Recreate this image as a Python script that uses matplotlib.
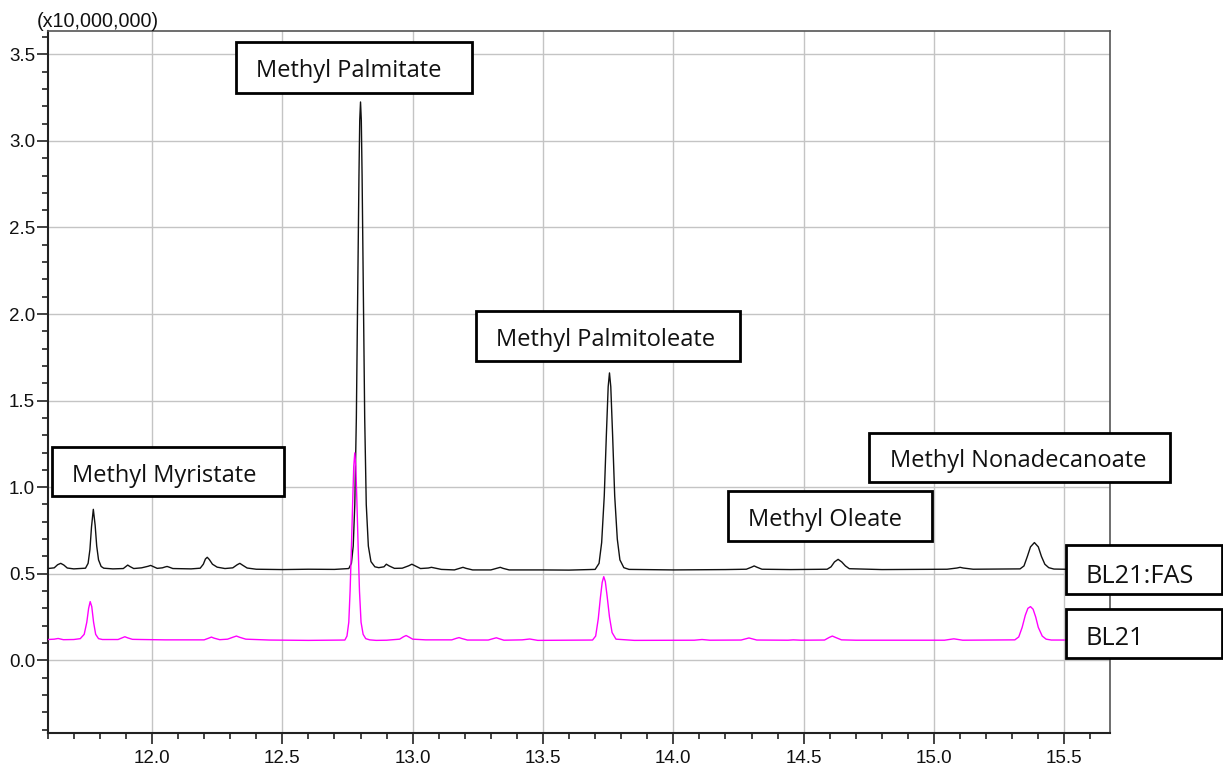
import matplotlib
matplotlib.use("Agg")
import matplotlib.pyplot as plt
from matplotlib.patches import Rectangle
from matplotlib.ticker import MultipleLocator, FormatStrFormatter

# ---------------- data ----------------
# BL21:FAS trace (black): retention time (min), intensity (x10,000,000)
fas_time = [11.60, 11.625, 11.638, 11.65, 11.662, 11.675, 11.70, 11.745, 11.755, 11.762,
            11.768, 11.775, 11.782, 11.788, 11.795, 11.805, 11.815, 11.85, 11.89, 11.900,
            11.907, 11.915, 11.93, 11.96, 11.985, 11.995, 12.005, 12.02, 12.04, 12.05,
            12.058, 12.066, 12.08, 12.15, 12.185, 12.197, 12.205, 12.212, 12.22, 12.232,
            12.25, 12.28, 12.31, 12.327, 12.337, 12.347, 12.365, 12.40, 12.50, 12.60,
            12.70, 12.755, 12.765, 12.772, 12.778, 12.784, 12.789, 12.794, 12.797, 12.800,
            12.803, 12.806, 12.811, 12.816, 12.822, 12.830, 12.840, 12.855, 12.87, 12.89,
            12.899, 12.91, 12.93, 12.96, 12.985, 12.997, 13.01, 13.03, 13.06, 13.072,
            13.085, 13.11, 13.16, 13.183, 13.193, 13.205, 13.23, 13.30, 13.325, 13.336,
            13.347, 13.37, 13.50, 13.60, 13.70, 13.715, 13.725, 13.735, 13.743, 13.750,
            13.755, 13.760, 13.767, 13.775, 13.785, 13.795, 13.81, 13.83, 14.00, 14.20,
            14.28, 14.300, 14.31, 14.320, 14.34, 14.45, 14.59, 14.605, 14.618, 14.632,
            14.646, 14.66, 14.675, 14.80, 15.05, 15.088, 15.10, 15.112, 15.15, 15.33,
            15.345, 15.358, 15.370, 15.385, 15.400, 15.412, 15.425, 15.44, 15.46, 15.50,
            15.675]
fas_int = [0.530, 0.534, 0.552, 0.560, 0.550, 0.533, 0.528, 0.532, 0.560, 0.640,
           0.770, 0.872, 0.780, 0.660, 0.580, 0.542, 0.532, 0.528, 0.530, 0.542,
           0.550, 0.542, 0.530, 0.534, 0.543, 0.548, 0.541, 0.531, 0.534, 0.539,
           0.542, 0.538, 0.530, 0.528, 0.532, 0.555, 0.585, 0.595, 0.582, 0.555,
           0.538, 0.530, 0.534, 0.552, 0.560, 0.550, 0.533, 0.526, 0.524, 0.526,
           0.525, 0.530, 0.560, 0.660, 0.900, 1.400, 2.100, 2.800, 3.120, 3.225,
           3.120, 2.800, 2.100, 1.400, 0.900, 0.660, 0.570, 0.540, 0.535, 0.540,
           0.555, 0.545, 0.531, 0.532, 0.546, 0.555, 0.545, 0.530, 0.533, 0.537,
           0.533, 0.525, 0.522, 0.532, 0.537, 0.531, 0.522, 0.522, 0.532, 0.537,
           0.531, 0.522, 0.522, 0.521, 0.525, 0.560, 0.680, 0.950, 1.300, 1.580,
           1.660, 1.580, 1.300, 0.950, 0.700, 0.580, 0.535, 0.525, 0.522, 0.524,
           0.526, 0.538, 0.545, 0.538, 0.526, 0.524, 0.526, 0.540, 0.568, 0.583,
           0.568, 0.545, 0.529, 0.524, 0.526, 0.533, 0.537, 0.533, 0.526, 0.528,
           0.545, 0.600, 0.655, 0.680, 0.655, 0.600, 0.555, 0.535, 0.527, 0.526,
           0.526]

# BL21 trace (magenta)
bl_time = [11.60, 11.625, 11.64, 11.66, 11.70, 11.725, 11.740, 11.750, 11.757, 11.763,
           11.769, 11.776, 11.784, 11.795, 11.81, 11.87, 11.886, 11.896, 11.906, 11.925,
           11.96, 12.05, 12.20, 12.218, 12.228, 12.238, 12.26, 12.29, 12.312, 12.324,
           12.336, 12.36, 12.45, 12.60, 12.74, 12.748, 12.755, 12.760, 12.765, 12.770,
           12.774, 12.778, 12.782, 12.786, 12.791, 12.796, 12.802, 12.810, 12.820, 12.835,
           12.86, 12.90, 12.95, 12.965, 12.975, 12.985, 13.00, 13.05, 13.15, 13.168,
           13.178, 13.188, 13.21, 13.29, 13.311, 13.321, 13.331, 13.35, 13.42, 13.449,
           13.48, 13.69, 13.702, 13.712, 13.720, 13.727, 13.733, 13.739, 13.746, 13.755,
           13.765, 13.78, 13.85, 14.08, 14.11, 14.14, 14.26, 14.29, 14.32, 14.44,
           14.46, 14.49, 14.58, 14.598, 14.61, 14.622, 14.645, 14.70, 15.04, 15.076,
           15.11, 15.31, 15.325, 15.338, 15.350, 15.360, 15.370, 15.380, 15.390, 15.400,
           15.415, 15.43, 15.45, 15.675]
bl_int = [0.120, 0.122, 0.126, 0.119, 0.120, 0.125, 0.150, 0.220, 0.300, 0.339,
          0.310, 0.220, 0.150, 0.125, 0.120, 0.120, 0.130, 0.136, 0.130, 0.121,
          0.120, 0.118, 0.118, 0.128, 0.134, 0.128, 0.119, 0.122, 0.134, 0.140,
          0.133, 0.122, 0.117, 0.115, 0.117, 0.140, 0.220, 0.400, 0.650, 0.920,
          1.120, 1.198, 1.120, 0.920, 0.650, 0.400, 0.220, 0.150, 0.125, 0.118,
          0.115, 0.116, 0.122, 0.136, 0.143, 0.135, 0.122, 0.118, 0.118, 0.127,
          0.131, 0.126, 0.117, 0.117, 0.126, 0.130, 0.125, 0.116, 0.118, 0.123,
          0.115, 0.117, 0.140, 0.240, 0.360, 0.450, 0.483, 0.455, 0.370, 0.250,
          0.160, 0.122, 0.115, 0.116, 0.120, 0.116, 0.117, 0.129, 0.117, 0.116,
          0.118, 0.116, 0.117, 0.132, 0.140, 0.132, 0.118, 0.116, 0.116, 0.124,
          0.116, 0.118, 0.135, 0.190, 0.260, 0.300, 0.310, 0.295, 0.250, 0.190,
          0.140, 0.122, 0.117, 0.117]

peak_labels = ["Methyl Palmitate", "Methyl Palmitoleate", "Methyl Myristate",
               "Methyl Nonadecanoate", "Methyl Oleate"]
trace_labels = ["BL21:FAS", "BL21"]
scale_label = "(x10,000,000)"

# ---------------- figure ----------------
W, H = 1223, 773
fig = plt.figure(figsize=(W / 100, H / 100), dpi=100)
ax = fig.add_axes([47.7 / W, 1 - 733 / H, (1110 - 47.7) / W, (733 - 31) / H])

ax.plot(fas_time, fas_int, color="#111111", lw=1.0, zorder=3,
        solid_joinstyle="round")
ax.plot(bl_time, bl_int, color="#ff00ff", lw=1.0, zorder=3,
        solid_joinstyle="round")

ax.set_xlim(11.60, 15.675)
ax.set_ylim(-0.42, 3.635)
ax.xaxis.set_major_locator(MultipleLocator(0.5))
ax.xaxis.set_minor_locator(MultipleLocator(0.1))
ax.yaxis.set_major_locator(MultipleLocator(0.5))
ax.yaxis.set_minor_locator(MultipleLocator(0.1))
ax.xaxis.set_major_formatter(FormatStrFormatter("%.1f"))
ax.yaxis.set_major_formatter(FormatStrFormatter("%.1f"))
ax.grid(True, which="major", color="#c4c4c4", lw=1.0, zorder=0)
ax.set_axisbelow(True)

for lab in ax.get_xticklabels() + ax.get_yticklabels():
    lab.set_fontfamily("Liberation Sans")
    lab.set_fontsize(13.5)
ax.tick_params(axis="both", which="major", direction="out", length=8, width=1.2,
               color="#222222", labelcolor="#111111")
ax.tick_params(axis="both", which="minor", direction="out", length=4.5, width=1.2,
               color="#222222")
ax.tick_params(axis="y", which="major", pad=1)
ax.tick_params(axis="x", which="major", pad=4)

for s in ["left", "bottom"]:
    ax.spines[s].set_color("#222222")
    ax.spines[s].set_linewidth(1.5)
for s in ["top", "right"]:
    ax.spines[s].set_color("#555555")
    ax.spines[s].set_linewidth(1.2)

fig.text(37 / W, 1 - 27 / H, scale_label, fontsize=14.2, family="Liberation Sans",
         ha="left", va="baseline", color="#111111")

# ---------------- annotation boxes ----------------
# (left, right, top, bottom, text_left, baseline) in pixels from the top-left
boxes = [
    (235.7, 472.3, 42.3, 92.7, 256, 77.0),
    (475.7, 740.0, 311.0, 361.0, 496, 346.0),
    (51.7, 284.3, 446.7, 496.0, 72, 482.0),
    (869.3, 1170.0, 432.7, 482.3, 890, 467.5),
    (727.5, 932.0, 490.7, 541.0, 748, 526.0),
]
for (l, r, t, b, tx, bl), txt in zip(boxes, peak_labels):
    fig.patches.append(Rectangle((l / W, 1 - b / H), (r - l) / W, (b - t) / H,
                                 transform=fig.transFigure, facecolor="white",
                                 edgecolor="black", lw=2.0, zorder=5))
    fig.text(tx / W, 1 - bl / H, txt, fontsize=17, family="Open Sans",
             ha="left", va="baseline", color="#111111", zorder=6)

tboxes = [
    (1065.7, 1222.0, 545.0, 594.3, 1085.7, 583.3),
    (1065.7, 1222.0, 609.0, 658.3, 1085.7, 645.0),
]
for (l, r, t, b, tx, bl), txt in zip(tboxes, trace_labels):
    fig.patches.append(Rectangle((l / W, 1 - b / H), (r - l) / W, (b - t) / H,
                                 transform=fig.transFigure, facecolor="white",
                                 edgecolor="black", lw=2.0, zorder=5))
    fig.text(tx / W, 1 - bl / H, txt, fontsize=18.3, family="Open Sans",
             ha="left", va="baseline", color="#111111", zorder=6)

fig.savefig("out.png", dpi=100)
